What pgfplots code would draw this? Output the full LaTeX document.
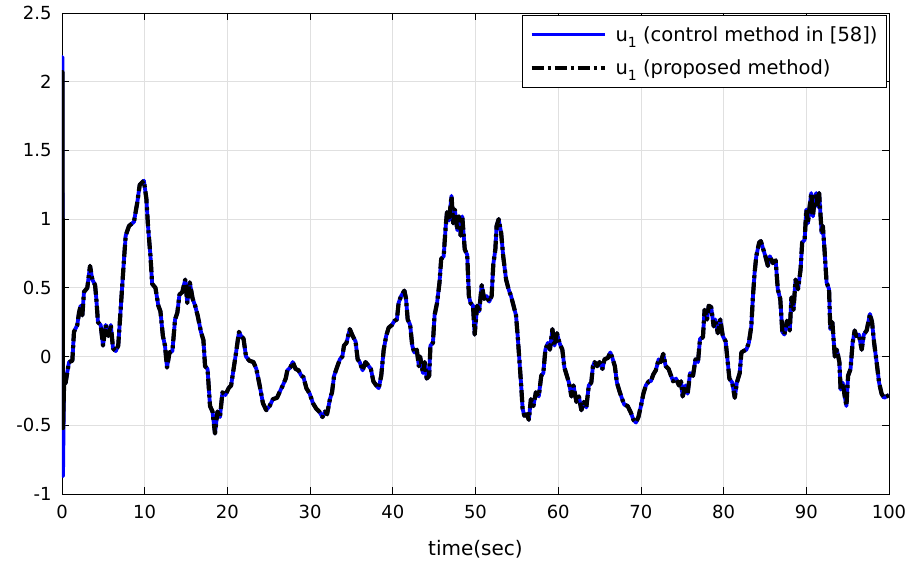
\documentclass[border=0pt]{standalone}
\usepackage{fontspec}
\setmainfont{DejaVu Sans}
\usepackage{pgfplots}
\pgfplotsset{compat=1.18}
\usepackage{pgfplotstable}

% u_1 trace (both methods overlap after the first instant)
\pgfplotstableread{
t u
0.25 -0.20
0.44 -0.19
0.65 -0.11
0.85 -0.04
1.25 -0.03
1.45 0.18
1.85 0.23
2.06 0.32
2.26 0.37
2.46 0.30
2.66 0.47
3.06 0.50
3.39 0.66
3.67 0.56
4.0 0.52
4.15 0.42
4.35 0.25
4.68 0.23
4.96 0.08
5.28 0.23
5.6 0.15
5.9 0.23
6.17 0.06
6.5 0.04
6.8 0.08
7.1 0.35
7.5 0.71
7.7 0.88
8.1 0.95
8.7 0.98
9.1 1.12
9.4 1.25
9.9 1.28
10.2 1.15
10.4 0.95
10.7 0.73
10.9 0.53
11.3 0.50
11.65 0.37
11.9 0.33
12.2 0.15
12.45 0.08
12.7 -0.08
13.0 0.03
13.35 0.04
13.67 0.27
13.95 0.32
14.2 0.45
14.55 0.47
14.9 0.56
15.15 0.39
15.45 0.54
15.8 0.42
16.1 0.37
16.4 0.30
16.8 0.18
17.1 0.12
17.3 -0.07
17.6 -0.09
17.9 -0.36
18.2 -0.40
18.5 -0.56
18.8 -0.40
19.1 -0.44
19.4 -0.26
19.75 -0.28
20.15 -0.23
20.45 -0.21
20.8 -0.07
21.05 0.03
21.4 0.18
21.65 0.15
21.95 0.13
22.25 0.0
22.65 -0.03
23.15 -0.04
23.5 -0.09
23.9 -0.21
24.3 -0.34
24.7 -0.39
25.1 -0.36
25.5 -0.31
26.0 -0.30
26.3 -0.26
26.7 -0.21
27.05 -0.16
27.25 -0.10
27.6 -0.08
27.9 -0.04
28.25 -0.09
28.6 -0.10
28.95 -0.14
29.2 -0.15
29.55 -0.23
29.95 -0.27
30.35 -0.34
30.75 -0.38
31.1 -0.40
31.5 -0.44
31.8 -0.40
32.05 -0.42
32.4 -0.31
32.65 -0.26
32.9 -0.14
33.3 -0.07
33.6 -0.02
33.9 0.0
34.1 0.08
34.4 0.10
34.8 0.20
35.15 0.15
35.5 0.11
35.75 -0.02
36.0 -0.04
36.35 -0.10
36.7 -0.04
37.1 -0.07
37.35 -0.09
37.65 -0.18
38.0 -0.21
38.3 -0.23
38.6 -0.14
38.9 0.05
39.2 0.15
39.5 0.21
39.9 0.23
40.2 0.26
40.5 0.27
40.7 0.39
41.0 0.44
41.4 0.48
41.6 0.42
41.8 0.27
42.1 0.23
42.35 0.08
42.6 0.03
42.9 0.05
43.15 -0.07
43.3 0.0
43.65 -0.12
43.85 -0.04
44.1 -0.16
44.4 -0.14
44.55 0.08
44.85 0.10
45.05 0.30
45.35 0.39
45.65 0.54
45.85 0.71
46.15 0.73
46.4 0.95
46.55 1.05
46.8 0.99
47.1 1.17
47.3 0.97
47.5 1.07
47.8 0.92
48.0 1.02
48.2 0.88
48.4 1.02
48.7 0.78
49.0 0.74
49.2 0.44
49.4 0.39
49.7 0.37
49.9 0.16
50.2 0.37
50.45 0.33
50.75 0.52
51.05 0.42
51.35 0.44
51.65 0.40
51.95 0.44
52.15 0.67
52.4 0.78
52.55 0.95
52.8 1.0
53.1 0.90
53.35 0.73
53.7 0.56
54.0 0.49
54.3 0.44
54.6 0.37
54.9 0.30
55.1 0.15
55.3 -0.02
55.5 -0.19
55.7 -0.38
55.9 -0.43
56.2 -0.42
56.45 -0.46
56.7 -0.31
57.0 -0.36
57.3 -0.26
57.65 -0.29
57.95 -0.14
58.2 -0.12
58.45 0.05
58.75 0.10
59.0 0.05
59.3 0.20
59.55 0.08
59.85 0.17
60.15 0.10
60.5 0.05
60.75 -0.08
61.05 -0.14
61.3 -0.19
61.6 -0.29
61.85 -0.21
62.2 -0.33
62.5 -0.29
62.8 -0.39
63.1 -0.33
63.4 -0.37
63.7 -0.21
64.0 -0.19
64.2 -0.07
64.4 -0.04
64.7 -0.07
65.0 -0.04
65.35 -0.09
65.6 -0.02
66.0 -0.01
66.3 0.03
66.55 -0.01
66.85 -0.07
67.1 -0.19
67.45 -0.26
67.8 -0.32
68.0 -0.35
68.4 -0.36
68.8 -0.41
69.1 -0.46
69.4 -0.48
69.7 -0.44
70.0 -0.36
70.3 -0.27
70.6 -0.21
70.95 -0.18
71.2 -0.18
71.5 -0.13
71.8 -0.10
72.15 -0.02
72.4 -0.04
72.7 0.02
73.0 -0.07
73.35 -0.09
73.65 -0.14
73.9 -0.18
74.25 -0.16
74.6 -0.21
74.85 -0.18
75.05 -0.29
75.4 -0.21
75.65 -0.27
75.95 -0.12
76.3 -0.14
76.6 -0.02
76.9 -0.04
77.15 0.13
77.5 0.14
77.7 0.34
78.0 0.27
78.2 0.37
78.5 0.36
78.8 0.22
79.0 0.27
79.3 0.17
79.6 0.27
79.9 0.15
80.25 0.11
80.5 -0.04
80.7 -0.16
81.05 -0.19
81.35 -0.30
81.6 -0.19
81.95 -0.12
82.15 0.03
82.4 0.04
82.75 0.05
83.05 0.10
83.35 0.22
83.55 0.44
83.75 0.61
83.95 0.73
84.3 0.83
84.5 0.84
84.8 0.78
85.05 0.73
85.35 0.66
85.6 0.73
85.95 0.68
86.3 0.70
86.55 0.49
86.85 0.42
87.1 0.18
87.35 0.16
87.65 0.26
88.0 0.19
88.2 0.43
88.45 0.34
88.7 0.56
89.0 0.49
89.3 0.63
89.5 0.83
89.8 0.85
90.0 1.07
90.2 0.97
90.4 1.09
90.6 1.19
90.8 1.02
91.0 1.14
91.2 1.19
91.4 1.09
91.55 1.19
91.75 1.0
91.85 0.90
92.0 0.95
92.2 0.78
92.45 0.54
92.75 0.49
92.9 0.20
93.15 0.25
93.45 0.0
93.7 0.05
94.0 -0.04
94.15 -0.24
94.4 -0.19
94.65 -0.29
94.85 -0.36
95.05 -0.14
95.35 -0.09
95.6 0.10
95.85 0.19
96.05 0.15
96.35 0.16
96.7 0.05
96.95 0.16
97.3 0.19
97.5 0.25
97.7 0.31
97.95 0.25
98.2 0.10
98.5 -0.04
98.8 -0.19
99.1 -0.27
99.4 -0.30
99.7 -0.29
100.0 -0.28
}\ucurve

\begin{document}
\begin{tikzpicture}
\useasboundingbox (-62pt,-74pt) rectangle (856pt,494pt);
\begin{axis}[
  scale only axis, width=827pt, height=481pt,
  at={(0pt,0pt)}, anchor=south west,
  xmin=0, xmax=100, ymin=-1, ymax=2.5,
  xtick={0,10,20,30,40,50,60,70,80,90,100},
  ytick={-1,-0.5,0,0.5,1,1.5,2,2.5},
  grid=major,
  major grid style={color=black!12, line width=0.8pt},
  axis line style={line width=0.8pt},
  tick style={black, line width=0.8pt},
  major tick length=7pt,
  /pgf/number format/assume math mode=true,
  ticklabel style={font=\fontsize{18}{20}\selectfont},
  xticklabel style={yshift=-8pt},
  yticklabel style={xshift=-7pt},
  xlabel={time(sec)},
  xlabel style={font=\fontsize{20}{24}\selectfont, yshift=-14pt},
  legend style={at={(rel axis cs:1,1)}, anchor=north east,
    xshift=-2pt, yshift=-2pt, draw=black, line width=0.8pt, fill=white,
    font=\fontsize{19.5}{22}\selectfont, row sep=13pt,
    inner xsep=7pt, inner ysep=9pt},
  legend cell align=left,
  legend image code/.code={\draw[#1] (0pt,0pt) -- (73pt,0pt); \path (80pt,0pt);},
]
\addplot[blue, line width=3.8pt, line join=round, forget plot] coordinates {(0,0) (0.05,2.18) (0.12,-0.87) (0.25,-0.20)};
\addplot[blue, line width=3.8pt, line join=round] table[x=t, y=u] {\ucurve};
\addlegendentry{u\raisebox{-0.6ex}{\fontsize{14}{15}\selectfont 1} (control method in [58])}
\addplot[black, line width=4.2pt, line join=round, dash pattern=on 12pt off 4pt on 3pt off 4pt] table[x=t, y=u] {\ucurve};
\addlegendentry{u\raisebox{-0.6ex}{\fontsize{14}{15}\selectfont 1} (proposed method)}
\addplot[black, line width=4.2pt, line join=round, forget plot] coordinates {(0,0) (0.05,2.07) (0.12,-0.52) (0.25,-0.20)};
\end{axis}
\end{tikzpicture}
\end{document}
